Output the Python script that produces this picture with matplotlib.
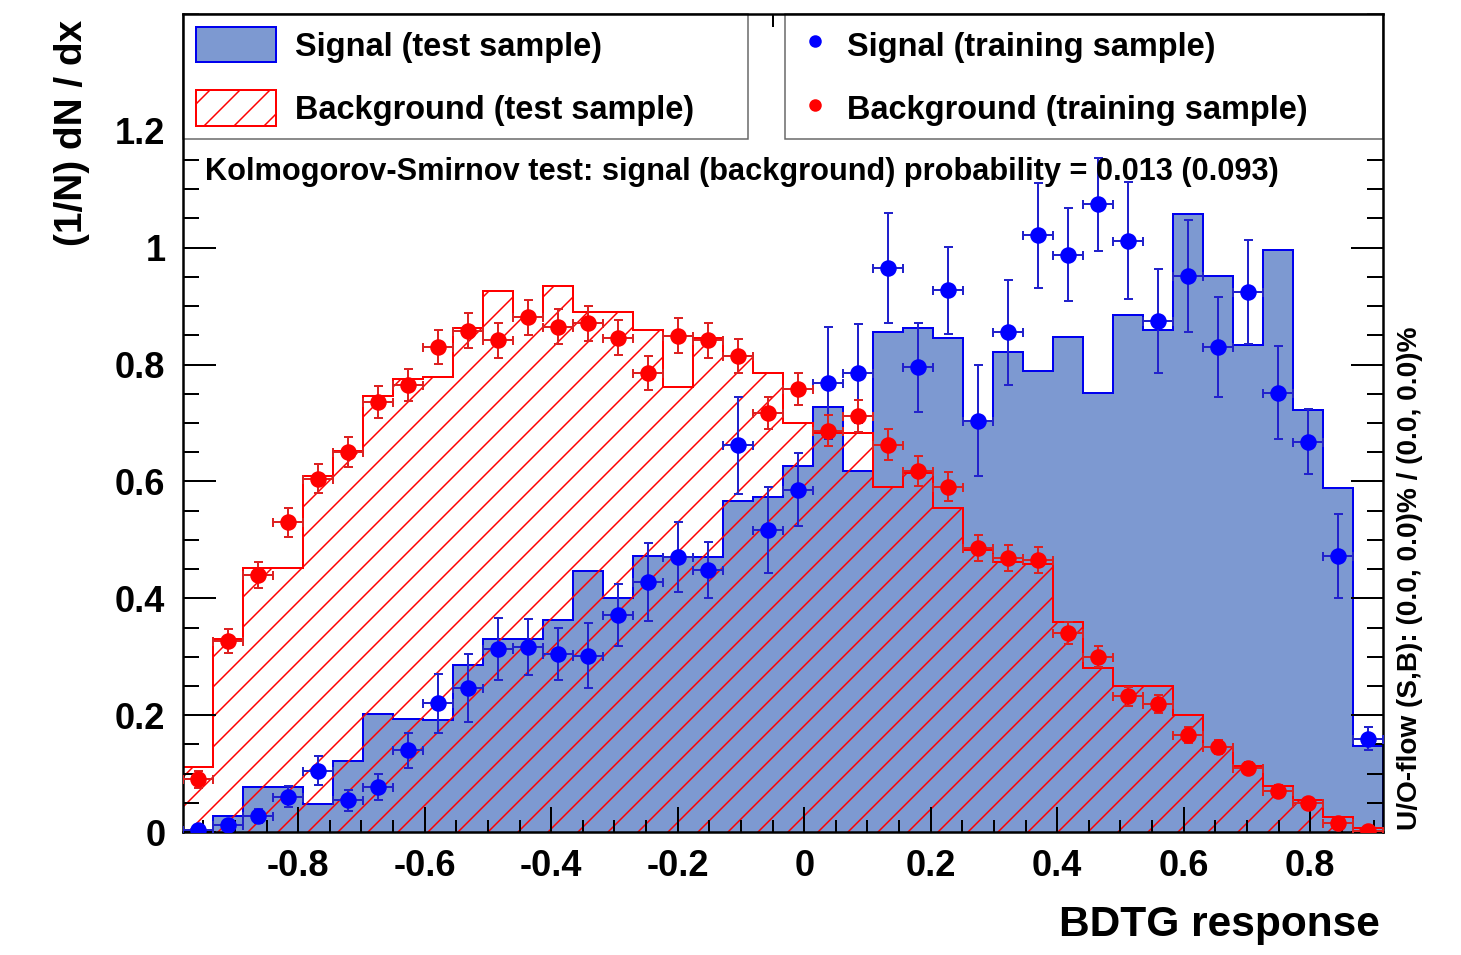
import numpy as np
import matplotlib
matplotlib.use('Agg')
import matplotlib.pyplot as plt
from matplotlib.patches import Patch
from matplotlib.lines import Line2D
from matplotlib.ticker import MultipleLocator

plt.rcParams['font.family'] = ['Liberation Sans', 'DejaVu Sans']
plt.rcParams['font.weight'] = 'bold'
plt.rcParams['axes.unicode_minus'] = False
plt.rcParams['hatch.linewidth'] = 0.6

# BDTG output range and binning
x_min, x_max = -0.982, 0.915
n_bins = 40

# normalised test-sample histograms
sig_test = [0.004, 0.027, 0.077, 0.077, 0.048, 0.121, 0.202, 0.193, 0.192, 0.286,
            0.330, 0.330, 0.362, 0.447, 0.400, 0.472, 0.470, 0.470, 0.567, 0.574,
            0.627, 0.727, 0.617, 0.855, 0.862, 0.846, 0.704, 0.822, 0.789, 0.848,
            0.752, 0.885, 0.859, 1.057, 0.952, 0.833, 0.996, 0.722, 0.589, 0.148]
bkg_test = [0.112, 0.330, 0.452, 0.452, 0.610, 0.652, 0.746, 0.776, 0.778, 0.862,
            0.926, 0.882, 0.935, 0.890, 0.890, 0.860, 0.762, 0.845, 0.815, 0.785,
            0.700, 0.683, 0.683, 0.590, 0.615, 0.555, 0.482, 0.462, 0.458, 0.360,
            0.280, 0.250, 0.250, 0.200, 0.145, 0.113, 0.078, 0.055, 0.026, 0.007]

# normalised training-sample points with errors
sig_train = [0.004, 0.012, 0.027, 0.060, 0.105, 0.054, 0.077, 0.140, 0.220, 0.246,
             0.314, 0.316, 0.305, 0.302, 0.372, 0.428, 0.470, 0.449, 0.662, 0.517,
             0.586, 0.768, 0.785, 0.966, 0.795, 0.927, 0.704, 0.855, 1.021, 0.988,
             1.074, 1.012, 0.874, 0.951, 0.830, 0.924, 0.752, 0.668, 0.473, 0.160]
sig_train_err = [0.004, 0.008, 0.012, 0.018, 0.025, 0.018, 0.022, 0.030, 0.050, 0.058,
                 0.053, 0.048, 0.045, 0.055, 0.053, 0.067, 0.060, 0.048, 0.083, 0.073,
                 0.063, 0.096, 0.085, 0.094, 0.077, 0.075, 0.095, 0.090, 0.090, 0.080,
                 0.080, 0.100, 0.089, 0.096, 0.085, 0.089, 0.080, 0.056, 0.072, 0.020]
bkg_train = [0.090, 0.327, 0.440, 0.530, 0.605, 0.650, 0.736, 0.765, 0.830, 0.858,
             0.842, 0.881, 0.865, 0.871, 0.846, 0.785, 0.849, 0.842, 0.815, 0.717,
             0.758, 0.687, 0.712, 0.663, 0.618, 0.591, 0.486, 0.469, 0.465, 0.341,
             0.300, 0.232, 0.219, 0.166, 0.145, 0.109, 0.071, 0.049, 0.016, 0.002]
bkg_train_err = [0.015, 0.020, 0.022, 0.025, 0.025, 0.026, 0.027, 0.028, 0.029, 0.030,
                 0.030, 0.030, 0.030, 0.030, 0.030, 0.029, 0.030, 0.030, 0.029, 0.028,
                 0.028, 0.027, 0.027, 0.026, 0.025, 0.025, 0.022, 0.022, 0.022, 0.019,
                 0.018, 0.016, 0.015, 0.013, 0.012, 0.010, 0.009, 0.007, 0.004, 0.002]

ks_text = 'Kolmogorov-Smirnov test: signal (background) probability = 0.013 (0.093)'
flow_text = 'U/O-flow (S,B): (0.0, 0.0)% / (0.0, 0.0)%'

edges = np.linspace(x_min, x_max, n_bins + 1)
centres = 0.5 * (edges[:-1] + edges[1:])
half_w = 0.5 * (edges[1] - edges[0])

W, H, DPI = 1461, 955, 180
fig = plt.figure(figsize=(W / DPI, H / DPI), dpi=DPI)
ax = fig.add_axes([183 / W, 1 - 832 / H, 1200 / W, 818 / H])

# signal test: filled, background test: hatched on top
ax.stairs(sig_test, edges, fill=True, facecolor='#7d99d1', edgecolor='none', zorder=1)
ax.stairs(sig_test, edges, color='#0000ee', linewidth=0.8, zorder=1.1)
ax.stairs(bkg_test, edges, fill=True, facecolor='none', edgecolor='#ff0000',
          linewidth=0, hatch='//', zorder=1.2)
ax.stairs(bkg_test, edges, color='#ff0000', linewidth=0.8, zorder=1.3)

ax.errorbar(centres, sig_train, xerr=half_w, yerr=sig_train_err, fmt='o',
            color='#0000ff', ecolor='#2222cc', ms=5.6, elinewidth=0.8,
            capsize=1.8, capthick=0.8, zorder=3)
ax.errorbar(centres, bkg_train, xerr=half_w, yerr=bkg_train_err, fmt='o',
            color='#ff0000', ecolor='#dd2222', ms=5.6, elinewidth=0.8,
            capsize=1.8, capthick=0.8, zorder=3)

ax.set_xlim(x_min, x_max)
ax.set_ylim(0, 1.4)
ax.set_xticks([-0.8, -0.6, -0.4, -0.2, 0, 0.2, 0.4, 0.6, 0.8])
ax.set_xticklabels(['-0.8', '-0.6', '-0.4', '-0.2', '0', '0.2', '0.4', '0.6', '0.8'])
ax.set_yticks([0, 0.2, 0.4, 0.6, 0.8, 1.0, 1.2])
ax.set_yticklabels(['0', '0.2', '0.4', '0.6', '0.8', '1', '1.2'])
ax.xaxis.set_minor_locator(MultipleLocator(0.05))
ax.yaxis.set_minor_locator(MultipleLocator(0.05))
ax.tick_params(which='both', direction='in', top=True, right=True, width=0.8, labelsize=14.5)
ax.tick_params(axis='x', which='major', length=10, pad=7)
ax.tick_params(axis='x', which='minor', length=5)
ax.tick_params(axis='y', which='major', length=13, pad=7)
ax.tick_params(axis='y', which='minor', length=6.5)
for s in ax.spines.values():
    s.set_linewidth(1.0)

# legends (kept under the tick marks)
leg_style = dict(loc='upper left', mode='expand', borderaxespad=0, fontsize=13,
                 handleheight=1.3, borderpad=0.4, labelspacing=0.85, fancybox=False,
                 framealpha=1, edgecolor='#666666')
h_sig = Patch(facecolor='#7d99d1', edgecolor='#0000ee', linewidth=0.8)
h_bkg = Patch(facecolor='white', edgecolor='#ff0000', hatch='//', linewidth=0.8)
leg1 = ax.legend([h_sig, h_bkg], ['Signal (test sample)', 'Background (test sample)'],
                 bbox_to_anchor=(0, 0, 0.471, 1), handlelength=2.46,
                 handletextpad=0.6, **leg_style)
leg1.get_frame().set_linewidth(0.6)
leg1.set_zorder(2.4)
ax.add_artist(leg1)

m_sig = Line2D([], [], marker='o', color='#0000ff', linestyle='none', ms=4)
m_bkg = Line2D([], [], marker='o', color='#ff0000', linestyle='none', ms=4)
leg2 = ax.legend([m_sig, m_bkg], ['Signal (training sample)', 'Background (training sample)'],
                 bbox_to_anchor=(0.5017, 0, 0.4983, 1), handlelength=1.05,
                 handletextpad=0.45, **leg_style)
leg2.get_frame().set_linewidth(0.6)
leg2.set_zorder(2.4)

ax.text(0.018, 0.807, ks_text, transform=ax.transAxes, fontsize=12.3,
        ha='left', va='center')

fig.text(72 / W, 1 - 20 / H, '(1/N) dN / dx', rotation=90, ha='center', va='top', fontsize=15.5)
fig.text(1380 / W, 1 - 925 / H, 'BDTG response', ha='right', va='center', fontsize=17)
fig.text(1410 / W, 1 - 830 / H, flow_text, rotation=90, ha='center', va='bottom',
         fontsize=11.2)

fig.savefig('out.png', dpi=DPI)
